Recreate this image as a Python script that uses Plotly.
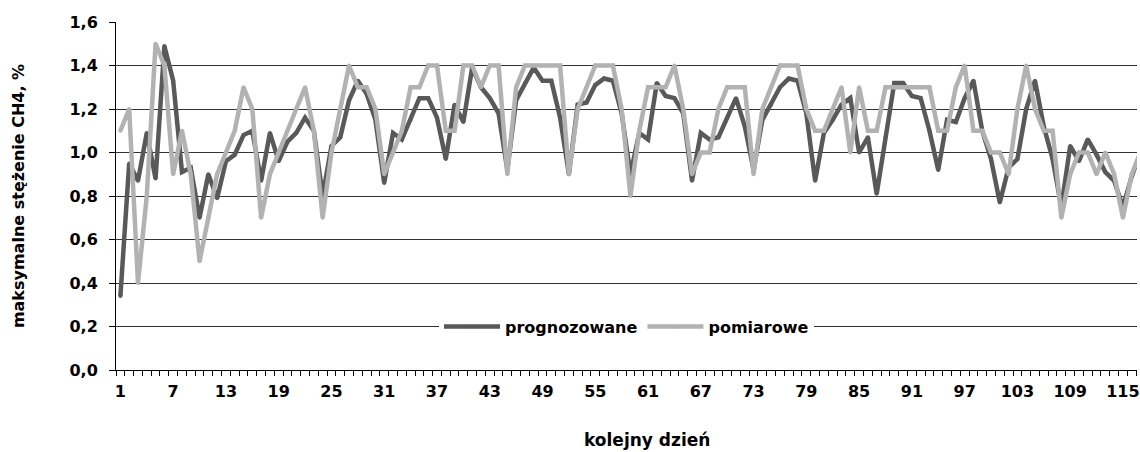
import plotly.graph_objects as go

days = list(range(1, 118))

prognozowane = [
    0.34, 0.95, 0.87, 1.09, 0.88, 1.49, 1.33, 0.91, 0.93, 0.70,
    0.90, 0.79, 0.96, 0.99, 1.08, 1.10, 0.87, 1.09, 0.96, 1.05,
    1.09, 1.16, 1.10, 0.80, 1.03, 1.07, 1.24, 1.33, 1.27, 1.15,
    0.86, 1.09, 1.06, 1.15, 1.25, 1.25, 1.16, 0.97, 1.22, 1.14,
    1.39, 1.30, 1.25, 1.18, 0.92, 1.24, 1.32, 1.39, 1.33, 1.33,
    1.16, 0.90, 1.22, 1.23, 1.31, 1.34, 1.33, 1.18, 0.90, 1.09,
    1.06, 1.32, 1.26, 1.25, 1.18, 0.87, 1.09, 1.06, 1.07, 1.16,
    1.25, 1.12, 0.92, 1.15, 1.22, 1.30, 1.34, 1.33, 1.18, 0.87,
    1.09, 1.15, 1.22, 1.25, 1.00, 1.07, 0.81, 1.07, 1.32, 1.32,
    1.26, 1.25, 1.10, 0.92, 1.15, 1.14, 1.25, 1.33, 1.10, 0.97,
    0.77, 0.93, 0.97, 1.20, 1.33, 1.12, 0.97, 0.75, 1.03, 0.96,
    1.06, 0.99, 0.91, 0.87, 0.75, 0.89, 1.00,
]

pomiarowe = [
    1.1, 1.2, 0.4, 0.8, 1.5, 1.4, 0.9, 1.1, 0.9, 0.5,
    0.7, 0.9, 1.0, 1.1, 1.3, 1.2, 0.7, 0.9, 1.0, 1.1,
    1.2, 1.3, 1.1, 0.7, 1.0, 1.2, 1.4, 1.3, 1.3, 1.2,
    0.9, 1.0, 1.1, 1.3, 1.3, 1.4, 1.4, 1.1, 1.1, 1.4,
    1.4, 1.3, 1.4, 1.4, 0.9, 1.3, 1.4, 1.4, 1.4, 1.4,
    1.4, 0.9, 1.2, 1.3, 1.4, 1.4, 1.4, 1.2, 0.8, 1.1,
    1.3, 1.3, 1.3, 1.4, 1.2, 0.9, 1.0, 1.0, 1.2, 1.3,
    1.3, 1.3, 0.9, 1.2, 1.3, 1.4, 1.4, 1.4, 1.2, 1.1,
    1.1, 1.2, 1.3, 1.0, 1.3, 1.1, 1.1, 1.3, 1.3, 1.3,
    1.3, 1.3, 1.3, 1.1, 1.1, 1.3, 1.4, 1.1, 1.1, 1.0,
    1.0, 0.9, 1.2, 1.4, 1.2, 1.1, 1.1, 0.7, 0.9, 1.0,
    1.0, 0.9, 1.0, 0.9, 0.7, 0.9, 1.0,
]

x_tick_vals = list(range(1, 116, 6))
x_tick_text = [str(v) for v in x_tick_vals]
y_tick_vals = [0.0, 0.2, 0.4, 0.6, 0.8, 1.0, 1.2, 1.4, 1.6]
x_title = "kolejny dzień"
y_title = "maksymalne stężenie CH4, %"

FONT = "DejaVu Sans, Liberation Sans, Arial, sans-serif"

fig = go.Figure()
fig.add_trace(go.Scatter(
    x=days, y=prognozowane, name="prognozowane", mode="lines+markers",
    line=dict(color="#595959", width=4.5),
    marker=dict(color="#595959", size=4),
))
fig.add_trace(go.Scatter(
    x=days, y=pomiarowe, name="pomiarowe", mode="lines+markers",
    line=dict(color="#b2b2b2", width=4.5),
    marker=dict(color="#b2b2b2", size=4),
))

fig.add_annotation(
    text=x_title, xref="paper", yref="paper", x=0.5205, y=-0.2,
    xanchor="center", yanchor="middle", showarrow=False,
    font=dict(family=FONT, size=17, weight="bold", color="black"),
)

fig.update_layout(
    width=1140, height=452,
    margin=dict(l=116, r=0, t=22, b=82),
    paper_bgcolor="white", plot_bgcolor="white",
    separators=", ",
    font=dict(family=FONT, color="black"),
    legend=dict(
        orientation="h", x=0.5, xanchor="center", y=0.125, yanchor="middle",
        bgcolor="white", font=dict(family=FONT, size=16, weight="bold"),
        itemwidth=56, tracegroupgap=0,
    ),
    xaxis=dict(
        range=[0.5, 116.6],
        tickmode="array", tickvals=x_tick_vals, ticktext=x_tick_text,
        ticks="", showgrid=False, zeroline=False,
        showline=True, linecolor="black", linewidth=1,
        ticklabelstandoff=7, ticklabeloverflow="allow",
        tickfont=dict(family=FONT, size=16, weight="bold"),
        minor=dict(tickmode="linear", tick0=0.5, dtick=1, ticks="outside",
                   ticklen=5, tickcolor="black", showgrid=False),
    ),
    yaxis=dict(
        range=[0, 1.6],
        tickmode="array", tickvals=y_tick_vals, tickformat=".1f",
        ticks="outside", ticklen=6, tickcolor="black",
        ticklabelstandoff=8,
        showgrid=True, gridcolor="#333333", gridwidth=1,
        zeroline=False, showline=True, linecolor="black", linewidth=1,
        tickfont=dict(family=FONT, size=16, weight="bold"),
        title=dict(text=y_title, standoff=40,
                   font=dict(family=FONT, size=16, weight="bold")),
    ),
)

fig.write_html("out.html")
